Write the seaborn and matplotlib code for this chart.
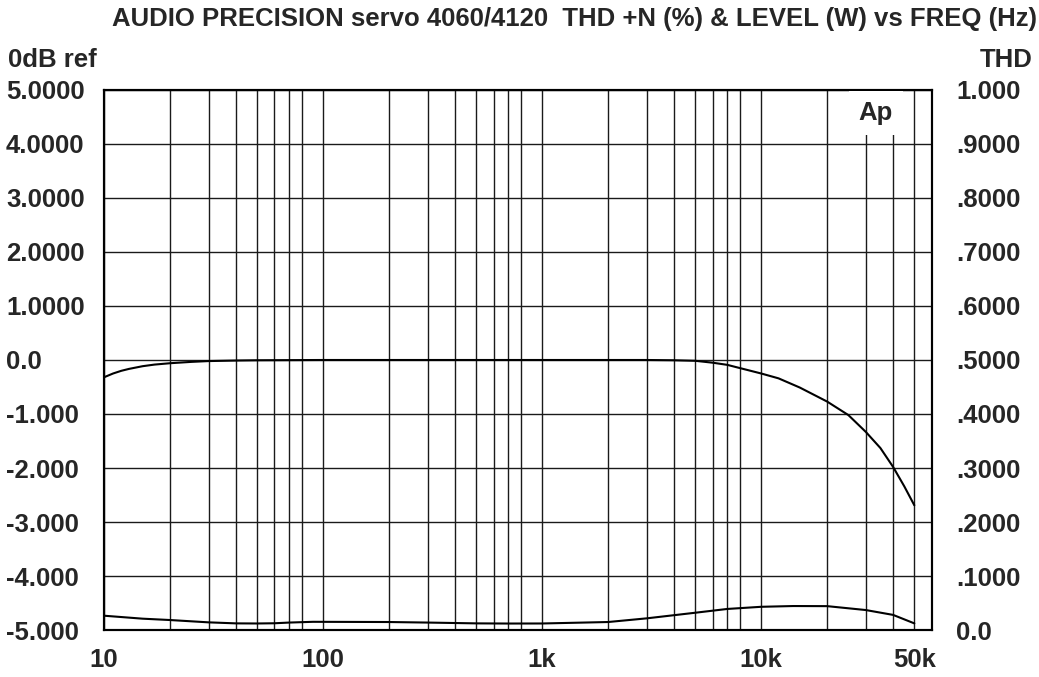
import matplotlib
matplotlib.use('Agg')
import matplotlib.pyplot as plt
import matplotlib.ticker as mticker
import matplotlib.transforms as mtransforms
import pandas as pd
import seaborn as sns

# Level response (dB, 0dB ref)
level_freq = [10, 11, 12, 13, 15, 17, 20, 25, 30, 40, 50, 100, 1000, 3000, 4000,
              5000, 6000, 7000, 8000, 10000, 12000, 15000, 20000, 25000, 30000,
              35000, 40000, 45000, 50000]
level_db = [-0.32, -0.25, -0.2, -0.165, -0.115, -0.085, -0.06, -0.035, -0.02,
            -0.01, -0.005, 0.0, 0.0, 0.0, -0.005, -0.015, -0.05, -0.09, -0.15,
            -0.25, -0.34, -0.51, -0.77, -1.02, -1.33, -1.63, -1.98, -2.34, -2.69]

# THD+N (%)
thd_freq = [10, 15, 20, 30, 40, 50, 60, 70, 90, 200, 300, 500, 700, 1000, 2000,
            3000, 5000, 7000, 10000, 14000, 20000, 30000, 40000, 50000]
thd_pct = [0.0265, 0.021, 0.0185, 0.0142, 0.0123, 0.0121, 0.0125, 0.0138, 0.0152,
           0.0148, 0.0138, 0.0123, 0.012, 0.0121, 0.0148, 0.0216, 0.032, 0.039,
           0.043, 0.0444, 0.0442, 0.037, 0.028, 0.0123]

x_ticks = [10, 100, 1000, 10000, 50000]
x_labels = ['10', '100', '1k', '10k', '50k']
left_ticks = [5, 4, 3, 2, 1, 0, -1, -2, -3, -4, -5]
left_labels = ['5.0000', '4.0000', '3.0000', '2.0000', '1.0000', '0.0',
               '-1.000', '-2.000', '-3.000', '-4.000', '-5.000']
right_ticks = [1.0, 0.9, 0.8, 0.7, 0.6, 0.5, 0.4, 0.3, 0.2, 0.1, 0.0]
right_labels = ['1.000', '.9000', '.8000', '.7000', '.6000', '.5000',
                '.4000', '.3000', '.2000', '.1000', '0.0']

level = pd.DataFrame({'freq': level_freq, 'db': level_db})
thd = pd.DataFrame({'freq': thd_freq, 'pct': thd_pct})

sns.set_style('white')
plt.rcParams['font.family'] = ['Liberation Sans', 'DejaVu Sans']
plt.rcParams['font.weight'] = 'bold'
fs = 18.5

fig = plt.figure(figsize=(10.39, 6.77), dpi=100)
ax = fig.add_axes([0.1001, 0.0694, 0.7966, 0.7977])
ax2 = ax.twinx()

sns.lineplot(data=level, x='freq', y='db', ax=ax, color='black', lw=1.5)
sns.lineplot(data=thd, x='freq', y='pct', ax=ax2, color='black', lw=1.5)

ax.set_xscale('log')
ax.set_xlim(10, 60000)
ax.set_ylim(-5, 5)
ax2.set_ylim(0, 1)

ax.xaxis.set_major_locator(mticker.FixedLocator(x_ticks))
ax.set_xticklabels(x_labels)
ax.xaxis.set_minor_locator(mticker.LogLocator(base=10, subs=[2, 3, 4, 5, 6, 7, 8]))
ax.xaxis.set_minor_formatter(mticker.NullFormatter())
ax.set_yticks(left_ticks)
ax.set_yticklabels(left_labels)
ax2.set_yticks(right_ticks)
ax2.set_yticklabels(right_labels)

ax.grid(True, which='both', axis='x', color='#1a1a1a', lw=1.0)
ax.grid(True, which='major', axis='y', color='#1a1a1a', lw=1.0)
ax2.grid(False)

ax.tick_params(axis='x', which='both', length=0, pad=13, labelsize=fs)
ax.tick_params(axis='y', length=0, pad=70.5, labelsize=fs)
for t in ax.get_yticklabels():
    t.set_horizontalalignment('left')
ax2.tick_params(axis='y', length=0, pad=17.5, labelsize=fs)

for a in (ax, ax2):
    a.set_xlabel('')
    a.set_ylabel('')
    for s in a.spines.values():
        s.set_color('black')
        s.set_linewidth(1.5)

# "Ap" badge in the top right corner of the plot
trans = mtransforms.blended_transform_factory(ax.transData, ax.transAxes)
ax2.text(33300, 0.957, 'Ap', transform=trans, ha='center', va='center',
         fontsize=fs, fontweight='bold',
         bbox=dict(facecolor='white', edgecolor='none', pad=7))

fig.text(0.5525, 0.972, 'AUDIO PRECISION servo 4060/4120  THD +N (%) & LEVEL (W) vs FREQ (Hz)',
         ha='center', va='center', fontsize=fs, fontweight='bold')
fig.text(0.008, 0.911, '0dB ref', ha='left', va='center', fontsize=fs, fontweight='bold')
fig.text(0.994, 0.911, 'THD', ha='right', va='center', fontsize=fs, fontweight='bold')

fig.savefig('out.png', dpi=100)
